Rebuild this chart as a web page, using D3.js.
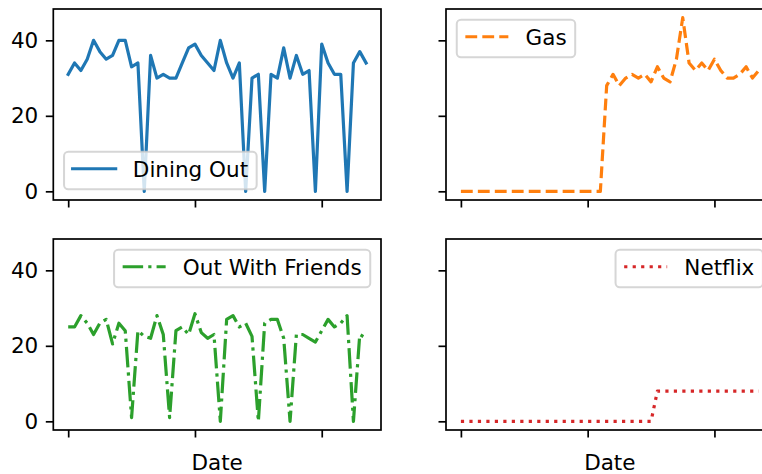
<!DOCTYPE html>
<html>
<head>
<meta charset="utf-8">
<script src="https://cdn.jsdelivr.net/npm/d3@7"></script>
<style>
  html, body { margin: 0; padding: 0; background: #fff; }
  svg { display: block; font-family: "DejaVu Sans", sans-serif; }
</style>
</head>
<body>
<svg id="chart" width="762" height="474"></svg>
<script>
// Weekly spending per category (48 weeks)
const dining = [31, 34, 32, 35, 40, 37, 35, 36, 40, 40, 33, 34, 0, 36, 30, 31,
                30, 30, 34, 38, 39, 36, 34, 32, 40, 34, 30, 34, 0, 30, 31, 0,
                31, 30, 38, 30, 36, 31, 32, 0, 39, 34, 31, 31, 0, 34, 37, 34];
const gas = [0, 0, 0, 0, 0, 0, 0, 0, 0, 0, 0, 0, 0, 0, 0, 0,
             0, 0, 0, 0, 0, 0, 0, 28, 31, 28, 30, 31, 30, 31, 29, 33,
             30, 29, 35, 46, 34, 32, 34, 32, 35, 32, 30, 30, 31, 33, 30, 32];
const friends = [25, 25, 28, 26, 23, 26, 27, 20.5, 26, 24, 1, 24, 22.5, 22, 28, 23,
                 1, 24, 25, 23, 28.5, 23.5, 22, 23, 0, 27, 28, 25, 26, 22.5, 0, 26,
                 27, 27, 22, 0, 23, 23, 22, 21, 24, 27, 25, 26, 28, 0, 23, 22];
const netflix = [0, 0, 0, 0, 0, 0, 0, 0, 0, 0, 0, 0, 0, 0, 0, 0,
                 0, 0, 0, 0, 0, 0, 0, 0, 0, 0, 0, 0, 0, 0, 0, 8,
                 8, 8, 8, 8, 8, 8, 8, 8, 8, 8, 8, 8, 8, 8, 8, 8];
const seriesNames = ["Dining Out", "Gas", "Out With Friends", "Netflix"];
const xTicks = [0, 20, 40];
const yTicks = [0, 20, 40];
const yTickLabels = ["0", "20", "40"];
const xLabel = "Date";

const svg = d3.select("#chart");
const FS = 21.5;          // text size
const LW = 3.2;           // line width
const TICK = 7.5;         // tick length / pad

const axW = 327.7, axH = 191;
const cols = [53.3, 446];
const rows = [9, 239];

const panels = [
  { name: seriesNames[0], values: dining,  color: "#1f77b4", dash: null,                          col: 0, row: 0, legend: "lower left" },
  { name: seriesNames[1], values: gas,     color: "#ff7f0e", dash: [3.7, 1.6],                    col: 1, row: 0, legend: "upper left" },
  { name: seriesNames[2], values: friends, color: "#2ca02c", dash: [6.4, 1.6, 1, 1.6],            col: 0, row: 1, legend: "upper right" },
  { name: seriesNames[3], values: netflix, color: "#d62728", dash: [1, 1.65],                     col: 1, row: 1, legend: "upper right" }
];

const n = dining.length;
const xMargin = (n - 1) * 0.05;
const allMax = d3.max([dining, gas, friends, netflix].flat());
const yMargin = allMax * 0.05;

// measure text width
const measurer = svg.append("text").attr("font-size", FS).attr("visibility", "hidden");
function textWidth(s) { measurer.text(s); return measurer.node().getComputedTextLength(); }

panels.forEach((p, i) => {
  const x0 = cols[p.col], y0 = rows[p.row];
  const x = d3.scaleLinear().domain([-xMargin, n - 1 + xMargin]).range([x0, x0 + axW]);
  const y = d3.scaleLinear().domain([-yMargin, allMax + yMargin]).range([y0 + axH, y0]);

  const g = svg.append("g");
  g.append("clipPath").attr("id", "clip" + i)
    .append("rect").attr("x", x0).attr("y", y0).attr("width", axW).attr("height", axH);

  // data line
  const line = d3.line().x((d, j) => x(j)).y(d => y(d));
  g.append("path")
    .datum(p.values)
    .attr("clip-path", `url(#clip${i})`)
    .attr("d", line)
    .attr("fill", "none")
    .attr("stroke", p.color)
    .attr("stroke-width", LW)
    .attr("stroke-linejoin", "round")
    .attr("stroke-linecap", p.dash ? "butt" : "square")
    .attr("stroke-dasharray", p.dash ? p.dash.map(v => v * LW).join(",") : null);

  // axes
  const yAxis = d3.axisLeft(y).tickValues(yTicks).tickSize(TICK).tickPadding(TICK)
    .tickFormat((d, k) => p.col === 0 ? yTickLabels[k] : "");
  const xAxis = d3.axisBottom(x).tickValues(xTicks).tickSize(TICK).tickFormat("");
  const ya = g.append("g").attr("transform", `translate(${x0},0)`).call(yAxis);
  const xa = g.append("g").attr("transform", `translate(0,${y0 + axH})`).call(xAxis);
  [ya, xa].forEach(a => {
    a.select(".domain").remove();
    a.selectAll(".tick line").attr("stroke", "#000").attr("stroke-width", 1.7);
    a.selectAll(".tick text").attr("font-size", FS).attr("fill", "#000")
      .attr("font-family", "DejaVu Sans, sans-serif");
  });

  // frame
  g.append("rect").attr("x", x0).attr("y", y0).attr("width", axW).attr("height", axH)
    .attr("fill", "none").attr("stroke", "#000").attr("stroke-width", 1.7);

  if (p.row === 1) {
    g.append("text").attr("x", x0 + axW / 2).attr("y", 470)
      .attr("text-anchor", "middle").attr("font-size", FS).attr("fill", "#000").text(xLabel);
  }

  // legend
  const pad = 0.4 * FS, handle = 2.0 * FS, gap = 0.8 * FS, edge = 0.5 * FS;
  const boxH = 37.5;
  const boxW = pad + handle + gap + textWidth(p.name) + pad;
  let lx, ly;
  if (p.legend === "lower left") { lx = x0 + edge; ly = y0 + axH - edge - boxH; }
  else if (p.legend === "upper left") { lx = x0 + edge; ly = y0 + edge; }
  else { lx = x0 + axW - edge - boxW; ly = y0 + edge; }
  const lg = g.append("g");
  lg.append("rect").attr("x", lx).attr("y", ly).attr("width", boxW).attr("height", boxH)
    .attr("rx", 0.2 * FS).attr("ry", 0.2 * FS)
    .attr("fill", "#fff").attr("fill-opacity", 0.8)
    .attr("stroke", "#cccccc").attr("stroke-opacity", 0.8).attr("stroke-width", 2);
  lg.append("line")
    .attr("x1", lx + pad).attr("x2", lx + pad + handle)
    .attr("y1", ly + 17).attr("y2", ly + 17)
    .attr("stroke", p.color).attr("stroke-width", LW)
    .attr("stroke-linecap", p.dash ? "butt" : "square")
    .attr("stroke-dasharray", p.dash ? p.dash.map(v => v * LW).join(",") : null);
  lg.append("text").attr("x", lx + pad + handle + gap).attr("y", ly + 24.8)
    .attr("font-size", FS).attr("fill", "#000").text(p.name);
});
measurer.remove();
</script>
</body>
</html>
